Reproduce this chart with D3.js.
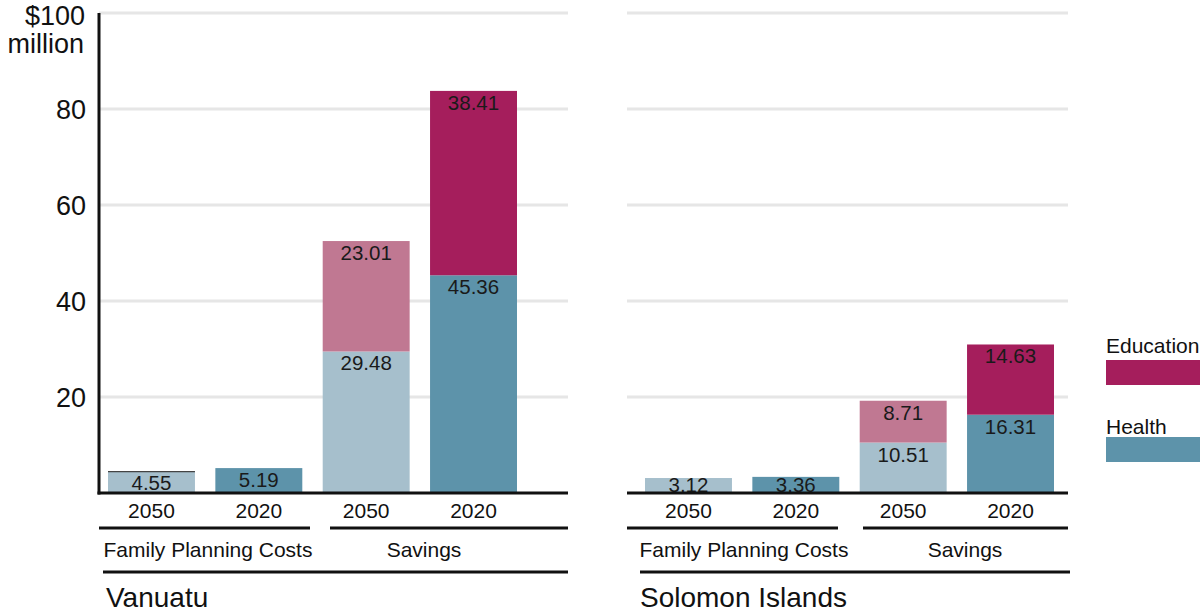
<!DOCTYPE html>
<html><head><meta charset="utf-8">
<script src="https://cdn.jsdelivr.net/npm/d3@7"></script>
<style>body{margin:0;background:#fff}text{font-family:"Liberation Sans",Arial,sans-serif}</style>
</head><body><svg id="c" width="1200" height="615"></svg>
<script>
const countries = ["Vanuatu", "Solomon Islands"];
const bars = ["FP2050", "FP2020", "S2050", "S2020"];
const barYears = ["2050", "2020", "2050", "2020"];
const groups = ["Family Planning Costs", "Savings"];
const healthVanuatu = [4.55, 5.19, 29.48, 45.36];
const eduVanuatu = [0, 0, 23.01, 38.41];
const healthSolomon = [3.12, 3.36, 10.51, 16.31];
const eduSolomon = [0, 0, 8.71, 14.63];
const yTicks = [20, 40, 60, 80, 100];
const legendLabels = ["Education", "Health"];

const colHealth = ["#a6bfcc", "#5d93aa", "#a6bfcc", "#5d93aa"];
const colEdu = ["#c07892", "#a51e5c", "#c07892", "#a51e5c"];

const svg = d3.select("#c");
const y = d3.scaleLinear().domain([0, 100]).range([493, 13]);
const labY = v => Math.min(y(v) + 19, 492);

const panels = [
  {name: countries[0], x0: 99, x1: 568, health: healthVanuatu, edu: eduVanuatu, axis: true,
   bx: [108, 517], fpLine: [99, 310], sLine: [330, 568], cLine: [103, 568], cx: 106, gc: [208, 424]},
  {name: countries[1], x0: 627, x1: 1068, health: healthSolomon, edu: eduSolomon, axis: false,
   bx: [645, 1054], fpLine: [627, 838], sLine: [863, 1068], cLine: [640, 1070], cx: 640, gc: [744, 965]}
];

panels.forEach(p => {
  const g = svg.append("g");
  g.selectAll("line.grid").data(yTicks).join("line")
    .attr("x1", p.x0).attr("x2", p.x1)
    .attr("y1", d => y(d)).attr("y2", d => y(d))
    .attr("stroke", "#e6e6e6").attr("stroke-width", 3);
  const x = d3.scaleBand().domain(bars).range(p.bx).paddingInner(0.19).paddingOuter(0);
  g.selectAll("rect.h").data(bars).join("rect")
    .attr("x", d => x(d)).attr("width", x.bandwidth())
    .attr("y", (d, i) => y(p.health[i])).attr("height", (d, i) => y(0) - y(p.health[i]))
    .attr("fill", (d, i) => colHealth[i]);
  g.selectAll("rect.e").data(bars.filter((d, i) => p.edu[i] > 0)).join("rect")
    .attr("x", d => x(d)).attr("width", x.bandwidth())
    .attr("y", d => { const i = bars.indexOf(d); return y(p.health[i] + p.edu[i]); })
    .attr("height", d => { const i = bars.indexOf(d); return y(p.health[i]) - y(p.health[i] + p.edu[i]); })
    .attr("fill", d => colEdu[bars.indexOf(d)]);
  if (p.axis) {
    g.append("line").attr("x1", x(bars[0])).attr("x2", x(bars[0]) + x.bandwidth())
      .attr("y1", y(p.health[0]) + 0.5).attr("y2", y(p.health[0]) + 0.5)
      .attr("stroke", "#444").attr("stroke-width", 1.2);
  }
  g.selectAll("text.hl").data(bars).join("text")
    .attr("x", d => x(d) + x.bandwidth() / 2)
    .attr("y", (d, i) => labY(p.health[i]))
    .attr("text-anchor", "middle").attr("font-size", 20.5).attr("fill", "#1a1a1a")
    .text((d, i) => p.health[i].toFixed(2));
  g.selectAll("text.el").data(bars.filter((d, i) => p.edu[i] > 0)).join("text")
    .attr("x", d => x(d) + x.bandwidth() / 2)
    .attr("y", d => { const i = bars.indexOf(d); return labY(p.health[i] + p.edu[i]); })
    .attr("text-anchor", "middle").attr("font-size", 20.5).attr("fill", "#1a1a1a")
    .text(d => p.edu[bars.indexOf(d)].toFixed(2));
  g.append("line").attr("x1", p.x0 - (p.axis ? 1.5 : 0)).attr("x2", p.x1)
    .attr("y1", y(0)).attr("y2", y(0)).attr("stroke", "#111").attr("stroke-width", 3);
  if (p.axis) {
    g.append("line").attr("x1", p.x0).attr("x2", p.x0)
      .attr("y1", y(100)).attr("y2", y(0) + 1.5).attr("stroke", "#111").attr("stroke-width", 3);
  }
  g.selectAll("text.yr").data(bars).join("text")
    .attr("x", d => x(d) + x.bandwidth() / 2).attr("y", 518)
    .attr("text-anchor", "middle").attr("font-size", 21).attr("fill", "#111")
    .text((d, i) => barYears[i]);
  [p.fpLine, p.sLine].forEach(l => {
    g.append("line").attr("x1", l[0]).attr("x2", l[1]).attr("y1", 528).attr("y2", 528)
      .attr("stroke", "#111").attr("stroke-width", 3);
  });
  groups.forEach((t, k) => {
    g.append("text").attr("x", p.gc[k]).attr("y", 557).attr("text-anchor", "middle")
      .attr("font-size", 21).attr("fill", "#111").text(t);
  });
  g.append("line").attr("x1", p.cLine[0]).attr("x2", p.cLine[1]).attr("y1", 572).attr("y2", 572)
    .attr("stroke", "#111").attr("stroke-width", 3);
  g.append("text").attr("x", p.cx).attr("y", 607).attr("font-size", 28).attr("fill", "#111").text(p.name);
});

svg.selectAll("text.yt").data(yTicks.filter(d => d < 100)).join("text")
  .attr("x", 86).attr("y", d => y(d) + 10).attr("text-anchor", "end")
  .attr("font-size", 27).attr("fill", "#111").text(d => d);
svg.append("text").attr("x", 85).attr("y", 25).attr("text-anchor", "end")
  .attr("font-size", 27).attr("fill", "#111").text("$" + yTicks[yTicks.length - 1]);
svg.append("text").attr("x", 84).attr("y", 53).attr("text-anchor", "end")
  .attr("font-size", 27).attr("fill", "#111").text("million");

const lg = svg.append("g");
const legCols = ["#a51e5c", "#5d93aa"];
const legTextY = [353, 434], legRectY = [360, 437];
legendLabels.forEach((t, i) => {
  lg.append("text").attr("x", 1106).attr("y", legTextY[i]).attr("font-size", 21).attr("fill", "#111").text(t);
  lg.append("rect").attr("x", 1106).attr("y", legRectY[i]).attr("width", 94).attr("height", 25).attr("fill", legCols[i]);
});
</script></body></html>
